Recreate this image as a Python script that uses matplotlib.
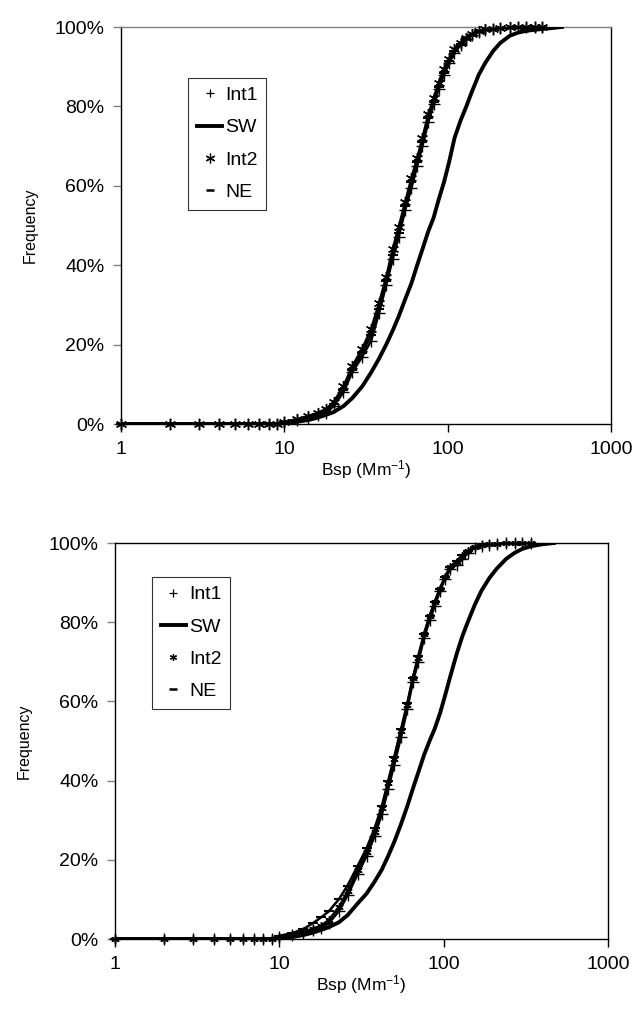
import matplotlib
matplotlib.use('Agg')
import matplotlib.pyplot as plt
from matplotlib.lines import Line2D

plt.rcParams['font.family'] = ['Liberation Sans', 'DejaVu Sans']
plt.rcParams['mathtext.default'] = 'regular'

bsp_top = [1, 2, 3, 4, 5, 6, 7, 8, 9, 10, 12, 14, 16, 18, 20, 23, 26, 30, 34, 38, 42, 46,
           50, 55, 60, 65, 70, 76, 82, 88, 95, 102, 110, 120, 130, 140, 155, 170, 190,
           210, 240, 270, 300, 340, 380]
int1_top = [0, 0, 0, 0, 0, 0, 0, 0, 0, 0.5, 1, 1.6, 2.2, 2.8, 4.5, 8, 13, 17, 21, 28, 35, 41.5,
            47, 54, 59.5, 65, 70, 76, 80.5, 84.5, 88, 91, 93.5, 95.5, 97, 98, 98.8, 99.3, 99.5,
            99.7, 99.8, 99.9, 99.9, 100, 100]
int2_top = [0, 0, 0, 0, 0, 0, 0, 0, 0, 0.6, 1.2, 2, 2.8, 3.8, 5.5, 9.5, 14.5, 19, 24, 30.5, 37, 44,
            49.5, 56, 62, 67, 72, 78, 82, 86, 89.5, 92, 94.5, 96, 97.3, 98.2, 99, 99.4, 99.6,
            99.8, 99.9, 100, 100, 100, 100]
ne_top = [0, 0, 0, 0, 0, 0, 0, 0, 0, 0.5, 1.1, 1.8, 2.5, 3.3, 5, 8.5, 13.5, 18, 22.5, 29, 36, 42.5,
          48, 55, 61, 66, 71, 77, 81, 85, 88.5, 91.5, 94, 95.8, 97.2, 98.1, 98.9, 99.3, 99.6,
          99.7, 99.8, 99.9, 100, 100, 100]
bsp_sw_top = [1, 2, 3, 4, 5, 6, 7, 8, 9, 10, 12, 14, 16, 18, 20, 23, 26, 30, 34, 38, 42, 46, 50,
              55, 60, 65, 70, 76, 82, 88, 95, 102, 110, 120, 130, 140, 155, 170, 190, 210, 240,
              270, 300, 340, 400, 450, 500]
sw_top = [0, 0, 0, 0, 0, 0, 0, 0, 0, 0, 0.6, 1, 1.6, 2.3, 3, 4.5, 6.5, 9.5, 13, 16.5, 20, 23.5, 27,
          31.5, 35.5, 40, 44, 48.5, 52, 56.5, 61, 66, 72, 76.5, 80, 83.5, 88, 91, 94, 96, 97.8,
          98.6, 99, 99.3, 99.6, 99.8, 100]

bsp_bot = [1, 2, 3, 4, 5, 6, 7, 8, 9, 10, 12, 14, 16, 18, 20, 23, 26, 30, 34, 38, 42, 46,
           50, 55, 60, 65, 70, 76, 82, 88, 95, 102, 110, 120, 130, 140, 155, 170, 190,
           210, 240, 270, 300, 340]
int1_bot = [0, 0, 0, 0, 0, 0, 0, 0, 0, 0.4, 0.9, 1.5, 2.2, 2.8, 4, 7, 11, 16.5, 21, 26, 31.5, 38,
            44, 51, 58, 65, 70, 76, 80.5, 84, 88, 91, 93.5, 94.5, 96, 97.5, 98.8, 99.3, 99.6,
            99.8, 99.9, 100, 100, 100]
int2_bot = [0, 0, 0, 0, 0, 0, 0, 0, 0, 0.5, 1.1, 1.8, 2.6, 3.4, 4.8, 8, 12, 17.5, 22, 27, 33, 39.5,
            45.5, 52.5, 59, 66, 71, 77, 81.5, 85, 88.5, 91.5, 94, 95.3, 96.8, 97.9, 99, 99.4, 99.7,
            99.8, 99.9, 100, 100, 100]
ne_bot = [0, 0, 0, 0, 0, 0, 0, 0, 0, 0.8, 1.5, 2.5, 4, 5.5, 7, 10, 13.5, 18.5, 23, 28, 33.5, 40,
          46, 53, 59.5, 66, 71.5, 77, 81.5, 85, 88.5, 91.5, 94, 95.5, 97, 98, 99, 99.4, 99.7,
          99.8, 99.9, 100, 100, 100]
bsp_sw_bot = [1, 2, 3, 4, 5, 6, 7, 8, 9, 10, 12, 14, 16, 18, 20, 23, 26, 30, 34, 38, 42, 46, 50,
              55, 60, 65, 70, 76, 82, 88, 95, 102, 110, 120, 130, 140, 155, 170, 190, 210, 240,
              270, 300, 340, 400, 470]
sw_bot = [0, 0, 0, 0, 0, 0, 0, 0, 0, 0, 0.5, 1, 1.6, 2.3, 3, 4.2, 6, 9, 11.5, 14.5, 17.5, 21, 24.5,
          29, 33.5, 38, 42, 46.5, 50, 53, 57, 61.5, 66.5, 72, 76.5, 80, 84.5, 88, 91.2, 93.5, 96,
          97.5, 98.5, 99.2, 99.7, 100]

series_names = ['Int1', 'SW', 'Int2', 'NE']
x_ticks = [1, 10, 100, 1000]
y_ticks = [0, 20, 40, 60, 80, 100]

fig = plt.figure(figsize=(6.35, 10.19), dpi=100)
ax_top = fig.add_axes([0.1906, 0.5839, 0.7717, 0.3896])
ax_bot = fig.add_axes([0.1811, 0.0785, 0.7764, 0.3886])

panels = [
    (ax_top, bsp_top, int1_top, int2_top, ne_top, bsp_sw_top, sw_top, (0.137, 0.872), 8),
    (ax_bot, bsp_bot, int1_bot, int2_bot, ne_bot, bsp_sw_bot, sw_bot, (0.075, 0.914), 6),
]

asterisk = (6, 2, 0)

for ax, bsp, int1, int2, ne, bsp_sw, sw, leg_pos, star_size in panels:
    # traces so the marker band looks continuous like the original
    for vals in (int1, int2, ne):
        ax.plot(bsp, vals, color='black', lw=1.8, zorder=2)
    ax.plot(bsp_sw, sw, color='black', lw=2.8, zorder=3)
    ax.plot(bsp, int1, linestyle='none', marker='+', ms=8, mew=1.0, color='black',
            zorder=4, clip_on=False)
    ax.plot(bsp, int2, linestyle='none', marker=asterisk, ms=star_size, mew=1.0, color='black',
            zorder=5, clip_on=False)
    ax.plot(bsp, ne, linestyle='none', marker='_', ms=7, mew=1.5, color='black',
            zorder=4, clip_on=False)

    ax.set_xscale('log')
    ax.set_xlim(1, 1000)
    ax.set_ylim(0, 100)
    ax.set_xticks(x_ticks)
    ax.set_xticklabels([str(t) for t in x_ticks])
    ax.xaxis.set_minor_locator(matplotlib.ticker.NullLocator())
    ax.set_yticks(y_ticks)
    ax.set_yticklabels([f'{t}%' for t in y_ticks])
    ax.tick_params(axis='both', direction='out', length=6, width=1, labelsize=14, pad=6)
    ax.tick_params(axis='y', colors='#808080', labelcolor='black')
    ax.set_xlabel(r'Bsp (Mm$^{-1}$)', fontsize=12.5, labelpad=0)
    ax.set_ylabel('Frequency', fontsize=11.5, labelpad=12)
    for s in ax.spines.values():
        s.set_color('black')
        s.set_linewidth(1)

    handles = [
        Line2D([], [], linestyle='none', marker='+', ms=6, mew=0.9, color='black'),
        Line2D([], [], color='black', lw=2.8),
        Line2D([], [], linestyle='none', marker=asterisk, ms=star_size - 1, mew=0.9, color='black'),
        Line2D([], [], linestyle='none', marker='_', ms=6, mew=1.8, color='black'),
    ]
    leg = ax.legend(handles, series_names, loc='upper left', bbox_to_anchor=leg_pos,
                    frameon=True, fancybox=False, fontsize=14, handlelength=1.3,
                    handletextpad=0.15, labelspacing=0.75, borderpad=0.45, borderaxespad=0)
    leg.get_frame().set_edgecolor('black')
    leg.get_frame().set_linewidth(0.8)

ax_top.spines['top'].set_color('#808080')

fig.savefig('out.png', dpi=100)
